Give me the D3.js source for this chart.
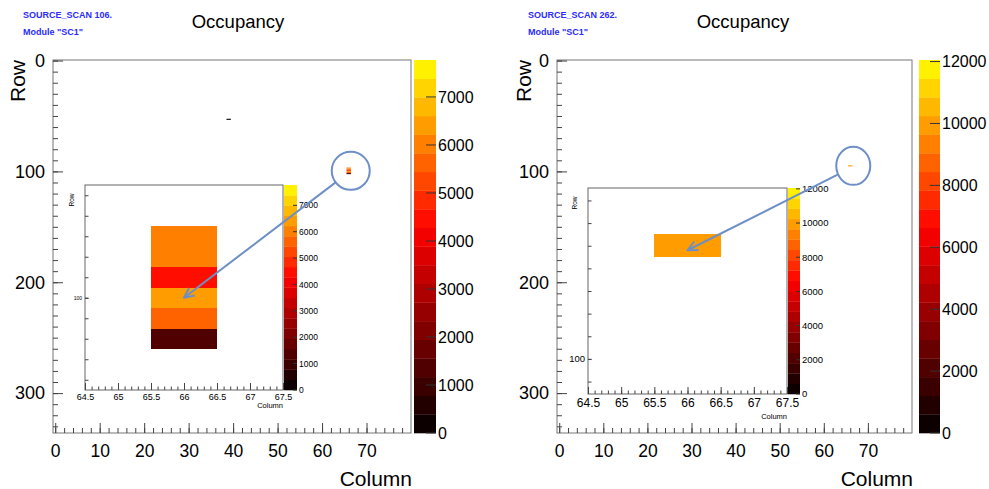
<!DOCTYPE html>
<html>
<head>
<meta charset="utf-8">
<script src="https://cdn.jsdelivr.net/npm/d3@7"></script>
<style>
body { margin: 0; background: #fff; }
svg { display: block; font-family: "Liberation Sans", Arial, sans-serif; }
</style>
</head>
<body>
<svg id="chart" width="989" height="489"></svg>
<script>
// ---- data ----
// scan 106
var scanA = ["SOURCE_SCAN 106.", 'Module "SC1"'];
var colsA = [39, 66, 66, 66, 66, 66, 66];
var rowsA = [53, 97, 98, 99, 100, 101, 102];
var hitsA = [300, 6000, 6000, 4500, 6400, 5600, 1400];
var zMaxA = 7770;
var zTicksA = [0, 1000, 2000, 3000, 4000, 5000, 6000, 7000];

// scan 262
var scanB = ["SOURCE_SCAN 262.", 'Module "SC1"'];
var colsB = [66];
var rowsB = [95];
var hitsB = [10000];
var zMaxB = 12050;
var zTicksB = [0, 2000, 4000, 6000, 8000, 10000, 12000];

var colTicks = [0, 10, 20, 30, 40, 50, 60, 70];
var rowTicks = [0, 100, 200, 300];
var zoomColTicks = [64.5, 65, 65.5, 66, 66.5, 67, 67.5];
var zoomRowTicks = [100];

var nLevels = 20;

// black -> red -> yellow palette, 20 contour levels
function bandColor(t) {
  var r = Math.min(1, t / 0.55), g = Math.max(0, (t - 0.55) / 0.45);
  return d3.rgb(r * 255, g * 255, 0).toString();
}
function levelColor(v, zMax) {
  var i = Math.min(nLevels - 1, Math.floor(v / zMax * nLevels));
  return bandColor((i + 0.5) / nLevels);
}

var svg = d3.select("#chart");
var arrowCol = "#6e8fc6";

function colorBar(g, x0, x1, y0, y1, zMax, ticks, tickLen, fontSize) {
  var z = d3.scaleLinear().domain([0, zMax]).range([y1, y0]);
  var lv = d3.range(nLevels);
  g.selectAll(null).data(lv).enter().append("rect")
    .attr("x", x0).attr("width", x1 - x0)
    .attr("y", function(i) { return z((i + 1) * zMax / nLevels); })
    .attr("height", function(i) { return z(i * zMax / nLevels) - z((i + 1) * zMax / nLevels) + 0.3; })
    .attr("fill", function(i) { return bandColor((i + 0.5) / nLevels); });
  g.selectAll(null).data(ticks).enter().append("line")
    .attr("x1", x1 - tickLen).attr("x2", x1)
    .attr("y1", function(d) { return z(d); }).attr("y2", function(d) { return z(d); })
    .attr("stroke", "#333").attr("stroke-width", 1);
  g.selectAll(null).data(ticks).enter().append("text")
    .attr("x", x1 + 2).attr("y", function(d) { return z(d); })
    .attr("dy", "0.36em")
    .attr("font-size", fontSize)
    .text(function(d) { return d; });
}

function addAxis(g, axis, tf) {
  var a = g.append("g").attr("transform", tf).call(axis);
  a.select(".domain").remove();
  a.selectAll(".tick line").attr("stroke", "#444");
  a.selectAll("text").attr("font-family", null);
  return a;
}

function drawPanel(p) {
  var g = svg.append("g");
  var x = d3.scaleLinear().domain([-0.5, 80]).range([p.x0, p.x1]);
  var y = d3.scaleLinear().domain([-0.5, 336]).range([p.y0, p.y1]);

  // header
  g.selectAll(null).data(p.scan).enter().append("text")
    .attr("x", p.hx).attr("y", function(d, i) { return 18 + i * 17; })
    .attr("font-size", 9).attr("font-weight", "bold").attr("fill", "#2b2bff")
    .text(function(d) { return d; });
  g.append("text").attr("x", p.tx).attr("y", 28).attr("text-anchor", "middle")
    .attr("font-size", 18.5).text("Occupancy");

  g.append("rect").attr("x", p.x0).attr("y", p.y0)
    .attr("width", p.x1 - p.x0).attr("height", p.y1 - p.y0)
    .attr("fill", "#fff").attr("stroke", "#777");

  // bins
  var idx = d3.range(p.hits.length);
  g.selectAll(null).data(idx).enter().append("rect")
    .attr("x", function(i) { return x(p.cols[i] - 0.5); })
    .attr("y", function(i) { return y(p.rows[i] - 0.5); })
    .attr("width", function(i) { return x(p.cols[i] + 0.5) - x(p.cols[i] - 0.5); })
    .attr("height", function(i) { return y(p.rows[i] + 0.5) - y(p.rows[i] - 0.5); })
    .attr("fill", function(i) { return levelColor(p.hits[i], p.zMax); });

  // axes
  var bt = "translate(0," + p.y1 + ")", lt = "translate(" + p.x0 + ",0)";
  addAxis(g, d3.axisBottom(x).tickValues(d3.range(0, 80, 2)).tickSize(-5).tickFormat(""), bt);
  addAxis(g, d3.axisBottom(x).tickValues(colTicks).tickSize(-10).tickPadding(11.5), bt)
    .selectAll("text").attr("font-size", 17.5);
  addAxis(g, d3.axisLeft(y).tickValues(d3.range(0, 336, 10)).tickSize(-5).tickFormat(""), lt);
  addAxis(g, d3.axisLeft(y).tickValues(rowTicks).tickSize(-10).tickPadding(8), lt)
    .selectAll("text").attr("font-size", 18);

  g.append("text").attr("transform", "translate(" + p.rowTitle + ",81) rotate(-90)")
    .attr("text-anchor", "middle").attr("dy", "0.35em").attr("font-size", 21).text("Row");
  g.append("text").attr("x", p.x1 + 1).attr("y", 486).attr("text-anchor", "end")
    .attr("font-size", 21).text("Column");

  colorBar(g, p.cb[0], p.cb[1], p.y0, p.y1, p.zMax, p.zTicks, 10, 16);

  // zoomed inset
  var q = p.inset;
  var ix = d3.scaleLinear().domain([64.5, 67.5]).range([q.x0, q.x1]);
  var iy = d3.scaleLinear().domain(q.rows).range([q.y0, q.y1]);
  var ig = g.append("g");
  ig.append("rect").attr("x", q.x0).attr("y", q.y0)
    .attr("width", q.x1 - q.x0).attr("height", q.y1 - q.y0)
    .attr("fill", "#fff").attr("stroke", "#666");
  var inside = idx.filter(function(i) {
    return p.cols[i] > 64.5 && p.cols[i] < 67.5 && p.rows[i] > q.rows[0] && p.rows[i] < q.rows[1];
  });
  ig.selectAll(null).data(inside).enter().append("rect")
    .attr("x", function(i) { return ix(p.cols[i] - 0.5); })
    .attr("y", function(i) { return iy(p.rows[i] - 0.5); })
    .attr("width", function(i) { return ix(p.cols[i] + 0.5) - ix(p.cols[i] - 0.5); })
    .attr("height", function(i) { return iy(p.rows[i] + 0.5) - iy(p.rows[i] - 0.5) + 0.4; })
    .attr("shape-rendering", "crispEdges")
    .attr("fill", function(i) { return levelColor(p.hits[i], p.zMax); });

  var ibt = "translate(0," + q.y1 + ")", ilt = "translate(" + q.x0 + ",0)";
  addAxis(ig, d3.axisBottom(ix).tickValues(d3.range(64.6, 67.45, 0.1)).tickSize(-3.5).tickFormat(""), ibt);
  addAxis(ig, d3.axisBottom(ix).tickValues(zoomColTicks).tickSize(-7).tickPadding(q.padX)
    .tickFormat(function(d) { return d; }), ibt)
    .selectAll("text").attr("font-size", q.font);
  addAxis(ig, d3.axisLeft(iy).tickValues(d3.range(Math.ceil(q.rows[0]), q.rows[1], 1)).tickSize(-3.5).tickFormat(""), ilt);
  addAxis(ig, d3.axisLeft(iy).tickValues(zoomRowTicks).tickSize(-3.5).tickPadding(3), ilt)
    .selectAll("text").attr("font-size", q.rowFont);
  ig.append("text").attr("transform", "translate(" + (q.x0 - 11) + "," + (q.y0 + 15) + ") rotate(-90)")
    .attr("text-anchor", "middle").attr("font-size", 6.5).text("Row");
  ig.append("text").attr("x", q.x1).attr("y", q.colY).attr("text-anchor", "end")
    .attr("font-size", 7.5).text("Column");
  colorBar(ig, q.x1 + 1, q.x1 + 1 + q.cbW, q.y0, q.y1, p.zMax, p.zTicks, 4, q.cbFont);

  // circle around the hit cluster and arrow to the inset
  var cx = x(66) + p.circ[0], cy = y(p.circ[1]);
  g.append("ellipse").attr("cx", cx).attr("cy", cy).attr("rx", p.circ[2]).attr("ry", 19)
    .attr("fill", "none").attr("stroke", arrowCol).attr("stroke-width", 2);
  var tx = ix(66), ty = iy(p.target);
  var ang = Math.atan2(ty - cy, tx - cx);
  var sx = cx + p.circ[2] * Math.cos(ang), sy = cy + 19 * Math.sin(ang);
  g.append("line").attr("x1", sx).attr("y1", sy).attr("x2", tx).attr("y2", ty)
    .attr("stroke", arrowCol).attr("stroke-width", 2);
  var back = ang + Math.PI;
  var head = [back - 0.45, back + 0.45].map(function(a) {
    return [tx + 11 * Math.cos(a), ty + 11 * Math.sin(a)];
  });
  g.append("path")
    .attr("d", "M" + head[0] + "L" + tx + "," + ty + "L" + head[1])
    .attr("fill", "none").attr("stroke", arrowCol).attr("stroke-width", 2)
    .attr("stroke-linejoin", "round");
}

drawPanel({
  scan: scanA, cols: colsA, rows: rowsA, hits: hitsA, zMax: zMaxA, zTicks: zTicksA,
  x0: 53, x1: 411, y0: 60, y1: 433, cb: [414, 436], hx: 23, tx: 238, rowTitle: 18,
  circ: [2, 99.5, 19], target: 100,
  inset: { x0: 85, x1: 283, y0: 185, y1: 390, rows: [94.5, 104.5], cbW: 13,
           font: 9, padX: 4, rowFont: 5, cbFont: 8.5, colY: 408 }
});
drawPanel({
  scan: scanB, cols: colsB, rows: rowsB, hits: hitsB, zMax: zMaxB, zTicks: zTicksB,
  x0: 557, x1: 912, y0: 60, y1: 433, cb: [919, 940], hx: 528, tx: 743, rowTitle: 524,
  circ: [3, 95, 17], target: 95.2,
  inset: { x0: 588, x1: 787, y0: 188, y1: 394, rows: [92.45, 101.55], cbW: 12,
           font: 12, padX: 4, rowFont: 9.5, cbFont: 9.5, colY: 419 }
});
</script>
</body>
</html>
